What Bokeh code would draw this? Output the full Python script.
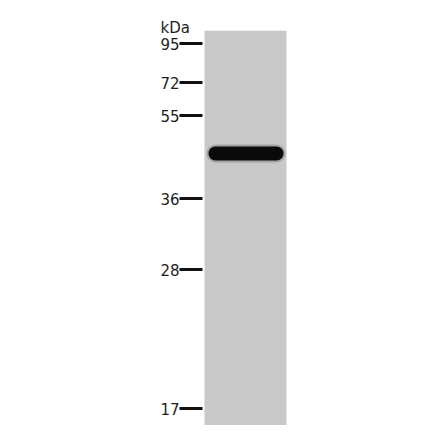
from bokeh.plotting import figure
from bokeh.models import Range1d, FixedTicker, Title
from bokeh.embed import file_html
from bokeh.resources import INLINE

# marker ladder (kDa) and where each one runs on the blot (px from top)
marker_kda = [95, 72, 55, 36, 28, 17]
marker_pos = [43, 82, 115, 198, 269, 408]

# the single detected band
band_pos = [153]
band_left = [208]
band_right = [283]

# lane extent
lane_top = [30]
lane_bottom = [425]

p = figure(width=424, height=425, output_backend="svg", toolbar_location=None,
           x_range=Range1d(202, 424), y_range=Range1d(425, 30),
           min_border_left=202, min_border_right=0, min_border_top=30, min_border_bottom=0)
p.background_fill_color = "white"
p.border_fill_color = "white"
p.outline_line_color = None
p.xgrid.visible = False
p.ygrid.visible = False
p.xaxis.visible = False

ax = p.yaxis[0]
ax.ticker = FixedTicker(ticks=marker_pos)
ax.major_label_overrides = {pos: str(k) for pos, k in zip(marker_pos, marker_kda)}
ax.axis_line_color = None
ax.major_tick_in = 0
ax.major_tick_out = 23
ax.major_tick_line_width = 3
ax.major_tick_line_color = "#111111"
ax.minor_tick_line_color = None
ax.major_label_standoff = 0
ax.major_label_text_font = "DejaVu Sans"
ax.major_label_text_font_size = "15px"
ax.major_label_text_color = "#1e1e1e"

# lane
p.quad(left=[204], right=[286], top=lane_top, bottom=lane_bottom,
       fill_color="#c9c9c9", line_color=None)

# band with a soft halo
p.quad(left=[b - 2 for b in band_left], right=[b + 2 for b in band_right],
       top=[b - 9 for b in band_pos], bottom=[b + 9 for b in band_pos],
       fill_color="#333333", fill_alpha=0.25, line_color=None, border_radius=9)
p.quad(left=band_left, right=band_right,
       top=[b - 7 for b in band_pos], bottom=[b + 7 for b in band_pos],
       fill_color="#0a0a0a", line_color=None, border_radius=7)

# unit label above the ladder
p.add_layout(Title(text="kDa", align="left", offset=-42, standoff=-12,
                   vertical_align="bottom", text_font="DejaVu Sans",
                   text_font_size="15px", text_font_style="normal",
                   text_color="#1e1e1e"), "above")

open("out.html", "w").write(file_html(p, INLINE))
